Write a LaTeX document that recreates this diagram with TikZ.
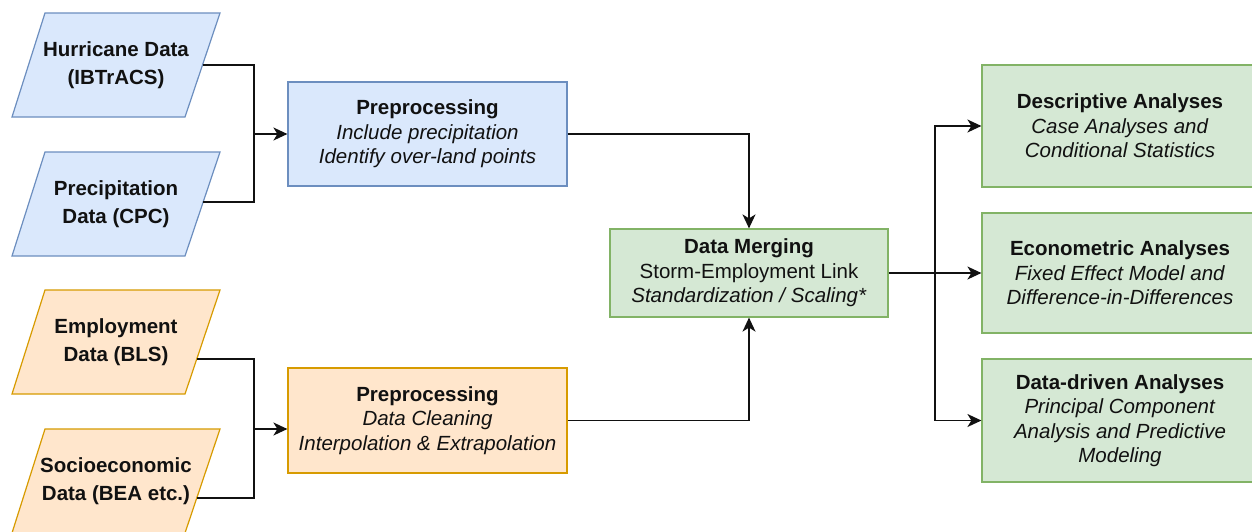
\documentclass[tikz,border=0pt]{standalone}
\usepackage{fontspec}
\setmainfont{Liberation Sans}
\usetikzlibrary{arrows.meta,calc}
\definecolor{bfill}{HTML}{DAE8FC}
\definecolor{bdraw}{HTML}{6C8EBF}
\definecolor{ofill}{HTML}{FFE6CC}
\definecolor{odraw}{HTML}{D79B00}
\definecolor{gfill}{HTML}{D5E8D4}
\definecolor{gdraw}{HTML}{82B366}
\definecolor{ink}{HTML}{111111}
\begin{document}
\begin{tikzpicture}[x=1pt,y=-1pt,
  ptext/.style={inner sep=0pt, align=center, text=ink,
    font=\fontsize{20.5}{27.5}\selectfont\bfseries},
  bluep/.style={fill=bfill, draw=bdraw, line width=1.2pt},
  orangep/.style={fill=ofill, draw=odraw, line width=1.2pt},
  gbox/.style={rectangle, fill=gfill, draw=gdraw, line width=1.2pt, inner sep=0pt,
    align=center, text=ink, font=\fontsize{20.5}{24.5}\selectfont},
  bbox/.style={gbox, fill=bfill, draw=bdraw},
  obox/.style={gbox, fill=ofill, draw=odraw},
  conn/.style={draw=ink, line width=1.6pt},
  arr/.style={conn, -{Stealth[length=14pt,width=13pt,inset=4pt]}}
]
\useasboundingbox (0,0) rectangle (1252,531);
\clip (0,0) rectangle (1252,531);
\fill[white] (0,0) rectangle (1252,531);

% input data (parallelograms): text nodes, outlines drawn round them
\newcommand\paraoutline[2]{%
  \filldraw[#1] ($(#2)+(-71,-52)$) -- ($(#2)+(104,-52)$) -- ($(#2)+(69,52)$)
    -- ($(#2)+(-104,52)$) -- cycle;}
\coordinate (hurc) at (116,65);
\coordinate (prcc) at (116,204);
\coordinate (empc) at (116,342);
\coordinate (socc) at (116,481);
\paraoutline{bluep}{hurc}
\paraoutline{bluep}{prcc}
\paraoutline{orangep}{empc}
\paraoutline{orangep}{socc}
\node[ptext] (hur) at (hurc) {Hurricane Data\\(IBTrACS)};
\node[ptext] (prc) at (prcc) {Precipitation\\Data (CPC)};
\node[ptext] (emp) at (empc) {Employment\\Data (BLS)};
\node[ptext] (soc) at (socc) {Socioeconomic\\Data (BEA etc.)};
\coordinate (hurR) at ($(hurc)+(86.5,0)$);
\coordinate (prcR) at ($(prcc)+(86.5,-2)$);
\coordinate (empR) at ($(empc)+(80.8,17)$);
\coordinate (socR) at ($(socc)+(80.8,17)$);

% preprocessing
\node[bbox, minimum width=279pt, minimum height=104pt] (pb) at (427.5,134)
  {\textbf{Preprocessing}\\\textit{Include precipitation}\\\textit{Identify over-land points}};
\node[obox, minimum width=279pt, minimum height=105pt] (po) at (427.5,420.5)
  {\textbf{Preprocessing}\\\textit{Data Cleaning}\\\textit{Interpolation \& Extrapolation}};

% merging
\node[gbox, minimum width=278pt, minimum height=88pt] (mg) at (749,273)
  {\textbf{Data Merging}\\Storm-Employment Link\\\textit{Standardization / Scaling*}};

% analyses
\node[gbox, minimum width=276pt, minimum height=122pt] (d1) at (1120,126)
  {\textbf{Descriptive Analyses}\\\textit{Case Analyses and}\\\textit{Conditional Statistics}};
\node[gbox, minimum width=276pt, minimum height=120pt] (d2) at (1120,273)
  {\textbf{Econometric Analyses}\\\textit{Fixed Effect Model and}\\\textit{Difference-in-Differences}};
\node[gbox, minimum width=276pt, minimum height=123pt] (d3) at (1120,420.5)
  {\textbf{Data-driven Analyses}\\\textit{Principal Component}\\\textit{Analysis and Predictive}\\\textit{Modeling}};

% connectors
\coordinate (jb) at (254,134);
\draw[conn] (hurR) -| (jb);
\draw[conn] (prcR) -| (jb);
\draw[arr] (jb) -- (pb.west);

\coordinate (jo) at (254,429);
\draw[conn] (empR) -| (jo);
\draw[conn] (socR) -| (jo);
\draw[arr] (jo) -- (jo -| po.west);

\draw[arr] (pb.east) -| (mg.north);
\draw[arr] (po.east) -| (mg.south);

\coordinate (jr) at (935,273);
\draw[conn] (mg.east) -- (jr);
\draw[arr] (jr) -- (d2.west);
\draw[arr] (jr) |- (d1.west);
\draw[arr] (jr) |- (d3.west);
\end{tikzpicture}
\end{document}
